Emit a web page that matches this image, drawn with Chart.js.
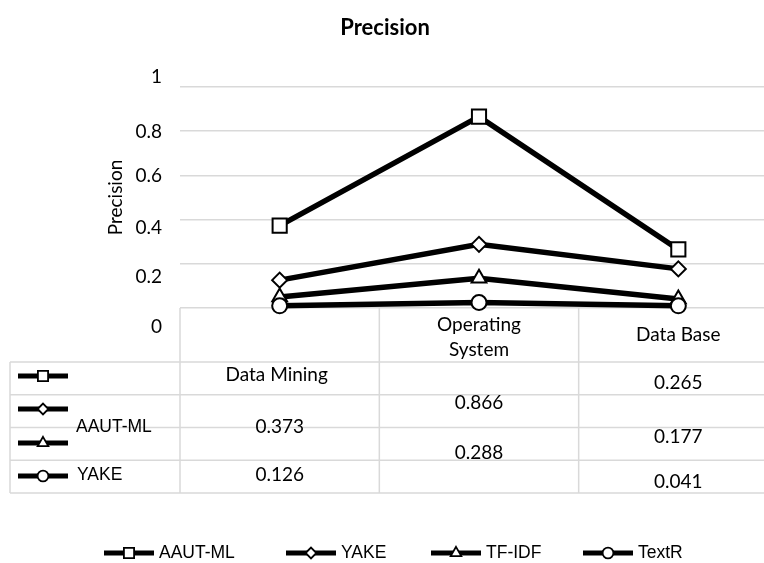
<!DOCTYPE html>
<html><head><meta charset="utf-8">
<script src="https://cdn.jsdelivr.net/npm/chart.js@4.4.1/dist/chart.umd.min.js"></script>
<style>html,body{margin:0;padding:0;overflow:hidden;background:#fff;width:764px;height:563px}canvas{display:block}</style>
</head><body><canvas id="c" width="790" height="563"></canvas>
<script>
// ---- data ----
const categories = ['Data Mining', 'Operating System', 'Data Base'];
const seriesNames = ['AAUT-ML', 'YAKE', 'TF-IDF', 'TextR'];
const aautML = [0.373, 0.866, 0.265];
const yake = [0.126, 0.288, 0.177];
const tfidf = [0.05, 0.135, 0.041];
const textR = [0.01, 0.025, 0.01];
const yTicks = [0, 0.2, 0.4, 0.6, 0.8, 1];
const chartTitle = 'Precision';
const yAxisTitle = 'Precision';

// ---- styles ----
const seriesValues = [aautML, yake, tfidf, textR];
const pointStyles = ['rect', 'rectRot', 'triangle', 'circle'];
const pointRadii = [10, 7.5, 8.5, 7.5];
const GRID = '#d9d9d9';
const CAL = 'Lato, "Open Sans", sans-serif';
const ARI = '"Liberation Sans", Arial, sans-serif';

function drawKey(ctx, x0, x1, y, i, scale) {
  ctx.save();
  ctx.strokeStyle = '#000';
  ctx.lineWidth = 5;
  ctx.beginPath(); ctx.moveTo(x0, y); ctx.lineTo(x1, y); ctx.stroke();
  ctx.fillStyle = '#fff'; ctx.strokeStyle = '#000'; ctx.lineWidth = 1.8;
  Chart.helpers.drawPoint(ctx, {pointStyle: pointStyles[i], rotation: 0, radius: pointRadii[i] * scale, borderWidth: 1.8}, (x0 + x1) / 2, y);
  ctx.restore();
}

const tablePlugin = {
  id: 'tablePlugin',
  beforeDatasetsDraw(chart) {
    const ctx = chart.ctx, a = chart.chartArea;
    const colW = (a.right - a.left) / categories.length;
    ctx.save();
    ctx.strokeStyle = GRID; ctx.lineWidth = 1.5;
    const top = a.bottom, rowTop = a.bottom + 54, rowH = 32.75, nRows = 4;
    const bottom = rowTop + rowH * nRows;
    ctx.beginPath();
    ctx.moveTo(10, rowTop); ctx.lineTo(10, bottom);
    for (let i = 0; i <= categories.length; i++) {
      const x = a.left + i * colW;
      ctx.moveTo(x, top); ctx.lineTo(x, bottom);
    }
    for (let r = 0; r <= nRows; r++) {
      const y = rowTop + r * rowH;
      ctx.moveTo(10, y); ctx.lineTo(chart.width, y);
    }
    ctx.stroke();
    ctx.restore();
  },
  afterDraw(chart) {
    const ctx = chart.ctx, a = chart.chartArea;
    const xs = chart.scales.x, ys = chart.scales.y;
    const b = a.bottom;
    ctx.save();
    ctx.fillStyle = '#000';
    // chart title
    ctx.font = 'bold 22px ' + CAL; ctx.textAlign = 'center'; ctx.textBaseline = 'middle';
    ctx.fillText(chartTitle, 385, 28);
    // y tick labels
    const tickOff = {0: 19, 0.2: 13, 0.4: 8, 0.6: 0, 0.8: 1, 1: -10};
    ctx.font = '19px ' + CAL; ctx.textAlign = 'right';
    yTicks.forEach(v => ctx.fillText(String(v), 162, ys.getPixelForValue(v) + (tickOff[v] || 0)));
    // header row (category names)
    ctx.textAlign = 'center';
    const cx = i => xs.getPixelForValue(i);
    ctx.fillText(categories[0], cx(0) - 3, b + 67);
    const os = categories[1].split(' ');
    ctx.fillText(os[0], cx(1), b + 17);
    ctx.fillText(os[1], cx(1), b + 42);
    ctx.fillText(categories[2], cx(2), b + 27);
    // values (placed as in the reference table)
    const cells = [
      {s: 0, c: 0, dy: 119}, {s: 1, c: 0, dy: 167},
      {s: 0, c: 1, dy: 95}, {s: 1, c: 1, dy: 145},
      {s: 0, c: 2, dy: 75}, {s: 1, c: 2, dy: 129}, {s: 2, c: 2, dy: 174}
    ];
    cells.forEach(o => ctx.fillText(seriesValues[o.s][o.c].toFixed(3), cx(o.c), b + o.dy));
    // row keys
    const keyY = [68, 101, 135, 168];
    keyY.forEach((dy, i) => drawKey(ctx, 18, 68, b + dy, i, 0.72));
    ctx.fillStyle = '#000';
    ctx.font = '17.5px ' + ARI; ctx.textAlign = 'left';
    ctx.fillText(seriesNames[0], 76, b + 119);
    ctx.fillText(seriesNames[1], 77, b + 167);
    // bottom legend
    const lx = [104, 286, 431, 583];
    const ly = 553;
    seriesNames.forEach((n, i) => {
      drawKey(ctx, lx[i], lx[i] + 50, ly, i, 0.72);
      ctx.fillStyle = '#000';
      ctx.fillText(n, lx[i] + 55, ly);
    });
    ctx.restore();
  }
};

new Chart(document.getElementById('c'), {
  type: 'line',
  data: {
    labels: categories,
    datasets: seriesNames.map((n, i) => ({
      label: n,
      data: seriesValues[i],
      borderColor: '#000',
      borderWidth: 5.5,
      pointStyle: pointStyles[i],
      pointRadius: pointRadii[i],
      pointBackgroundColor: '#fff',
      pointBorderColor: '#000',
      pointBorderWidth: 2,
      tension: 0,
      order: 4 - i,
      clip: false
    }))
  },
  options: {
    responsive: false,
    animation: false,
    layout: {padding: {left: 0, right: 3, top: 87, bottom: 255}},
    plugins: {
      legend: {display: false},
      tooltip: {enabled: false},
      title: {display: false}
    },
    scales: {
      x: {display: false, offset: true},
      y: {
        min: 0, max: 1,
        ticks: {display: false, stepSize: 0.2},
        grid: {color: GRID, lineWidth: 1.5, drawTicks: false},
        border: {display: false},
        title: {display: true, text: yAxisTitle, color: '#000', font: {family: 'Lato', size: 19}, padding: {top: 104, bottom: 0}},
        afterFit(s) { s.width = 180; }
      }
    }
  },
  plugins: [tablePlugin]
});
</script></body></html>
